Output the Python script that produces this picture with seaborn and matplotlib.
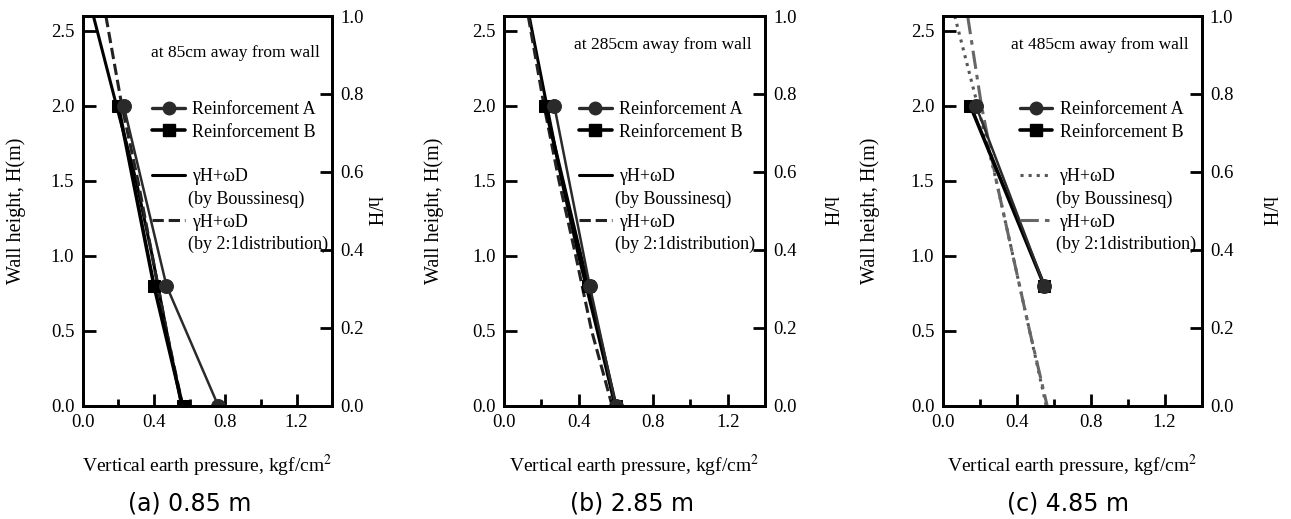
import numpy as np
import matplotlib
matplotlib.use("Agg")
import matplotlib.pyplot as plt
import seaborn as sns
from matplotlib.lines import Line2D
from matplotlib.ticker import MultipleLocator, FormatStrFormatter

sns.set_style("ticks")
plt.rcParams["font.family"] = ["Liberation Serif", "DejaVu Serif"]
plt.rcParams["mathtext.fontset"] = "stix"
for key in ["text.color", "axes.labelcolor", "xtick.color", "ytick.color", "axes.edgecolor"]:
    plt.rcParams[key] = "black"

# ---- data ----
panel_titles = ["(a) 0.85 m", "(b) 2.85 m", "(c) 4.85 m"]
panel_notes = ["at 85cm away from wall", "at 285cm away from wall", "at 485cm away from wall"]

# measured points, wall height H (m)
h_a = [2.0, 0.8, 0.0]
h_b = [2.0, 0.8, 0.0]
h_c = [2.0, 0.8]
reinf_a = [[0.23, 0.47, 0.76], [0.27, 0.46, 0.60], [0.18, 0.55]]
reinf_b = [[0.20, 0.40, 0.56], [0.22, 0.45, 0.60], [0.15, 0.55]]
reinf_h = [h_a, h_b, h_c]

# theoretical curves
h_theory = [2.6, 2.0, 1.5, 1.0, 0.5, 0.0]
bouss = [[0.06, 0.19, 0.30, 0.39, 0.47, 0.555],
         [0.135, 0.23, 0.31, 0.40, 0.50, 0.595],
         [0.065, 0.19, 0.29, 0.38, 0.47, 0.56]]
dist21 = [[0.13, 0.22, 0.31, 0.39, 0.47, 0.56],
          [0.13, 0.215, 0.295, 0.385, 0.47, 0.58],
          [0.135, 0.21, 0.29, 0.38, 0.47, 0.565]]

# ---- styles per panel ----
bouss_style = [dict(color="black", linestyle="-", linewidth=2.2),
               dict(color="black", linestyle="-", linewidth=2.2),
               dict(color="#555555", linestyle=":", linewidth=2.2)]
dist_style = [dict(color="#222222", linestyle="--", linewidth=2.2),
              dict(color="#222222", linestyle="--", linewidth=2.2),
              dict(color="#666666", linestyle=(0, (6, 2, 1.5, 2)), linewidth=2.2)]

# axes positions in pixels: left, right, top, bottom
W, H = 1291, 519
boxes = [(82.7, 332.3, 16, 405.7), (504, 765, 16, 405.7), (942.7, 1201.5, 16, 405.7)]
left_lab = [-0.229, -0.23, -0.242]
right_lab = [1.20, 1.28, 1.29]
leg_x = [0.25, 0.26, 0.27]
note_x = [0.275, 0.27, 0.265]
note_y = [0.905, 0.925, 0.925]
caption_x = [190, 632, 1068]

fig = plt.figure(figsize=(W / 100, H / 100), dpi=100)

for i in range(3):
    l, r, t, b = boxes[i]
    ax = fig.add_axes([l / W, 1 - b / H, (r - l) / W, (b - t) / H])

    sns.lineplot(x=bouss[i], y=h_theory, ax=ax, sort=False, estimator=None, **bouss_style[i])
    sns.lineplot(x=dist21[i], y=h_theory, ax=ax, sort=False, estimator=None, **dist_style[i])
    sns.lineplot(x=reinf_b[i], y=reinf_h[i], ax=ax, sort=False, estimator=None,
                 color="black", linewidth=2.6, marker="s", markersize=9,
                 markeredgecolor="black")
    sns.lineplot(x=reinf_a[i], y=reinf_h[i], ax=ax, sort=False, estimator=None,
                 color="#2a2a2a", linewidth=1.8, marker="o", markersize=10,
                 markeredgecolor="#2a2a2a")

    ax.set_xlim(0, 1.4)
    ax.set_ylim(0, 2.6)
    ax.xaxis.set_major_locator(MultipleLocator(0.4))
    ax.xaxis.set_minor_locator(MultipleLocator(0.2))
    ax.yaxis.set_major_locator(MultipleLocator(0.5))
    ax.xaxis.set_major_formatter(FormatStrFormatter("%.1f"))
    ax.yaxis.set_major_formatter(FormatStrFormatter("%.1f"))
    ax.tick_params(axis="both", which="major", direction="in", length=9, width=2,
                   labelsize=13.5, pad=6)
    ax.tick_params(axis="x", which="minor", direction="in", length=5, width=2)
    for s in ax.spines.values():
        s.set_linewidth(2)
        s.set_visible(True)

    ax.set_xlabel("Vertical earth pressure, kgf/cm$^2$", fontsize=14, labelpad=16)
    ax.set_ylabel("Wall height, H(m)", fontsize=14.5)
    ax.yaxis.set_label_coords(left_lab[i], 0.5)

    ax2 = ax.twinx()
    ax2.set_ylim(0, 1.0)
    ax2.yaxis.set_major_locator(MultipleLocator(0.2))
    ax2.yaxis.set_major_formatter(FormatStrFormatter("%.1f"))
    ax2.tick_params(axis="y", direction="in", length=9, width=2, labelsize=13.5, pad=6)
    ax2.set_ylabel("h/H", fontsize=14.5, rotation=270)
    ax2.yaxis.set_label_coords(right_lab[i], 0.5)
    for s in ax2.spines.values():
        s.set_linewidth(2)

    ax.text(note_x[i], note_y[i], panel_notes[i], transform=ax.transAxes,
            fontsize=12.5, va="center", ha="left")

    none = Line2D([], [], color="none")
    handles = [
        Line2D([], [], color="#2a2a2a", linewidth=2.4, marker="o", markersize=9),
        Line2D([], [], color="black", linewidth=2.6, marker="s", markersize=9),
        none,
        Line2D([], [], **bouss_style[i]),
        none,
        Line2D([], [], **dist_style[i]),
        none,
    ]
    labels = ["Reinforcement A", "Reinforcement B", " ",
              "γH+ωD", "(by Boussinesq)", "γH+ωD", "(by 2:1distribution)"]
    leg = ax.legend(handles, labels, loc="upper left", bbox_to_anchor=(leg_x[i], 0.80),
                    frameon=False, fontsize=13, handlelength=1.8, handletextpad=0.4,
                    labelspacing=0.3, borderaxespad=0.0)
    for k in (4, 6):
        leg.get_texts()[k].set_x(-4)

    fig.text(caption_x[i] / W, 1 - 503 / H, panel_titles[i], ha="center", va="center",
             fontsize=17, family=["DejaVu Sans"])

fig.savefig("out.png", dpi=100)
